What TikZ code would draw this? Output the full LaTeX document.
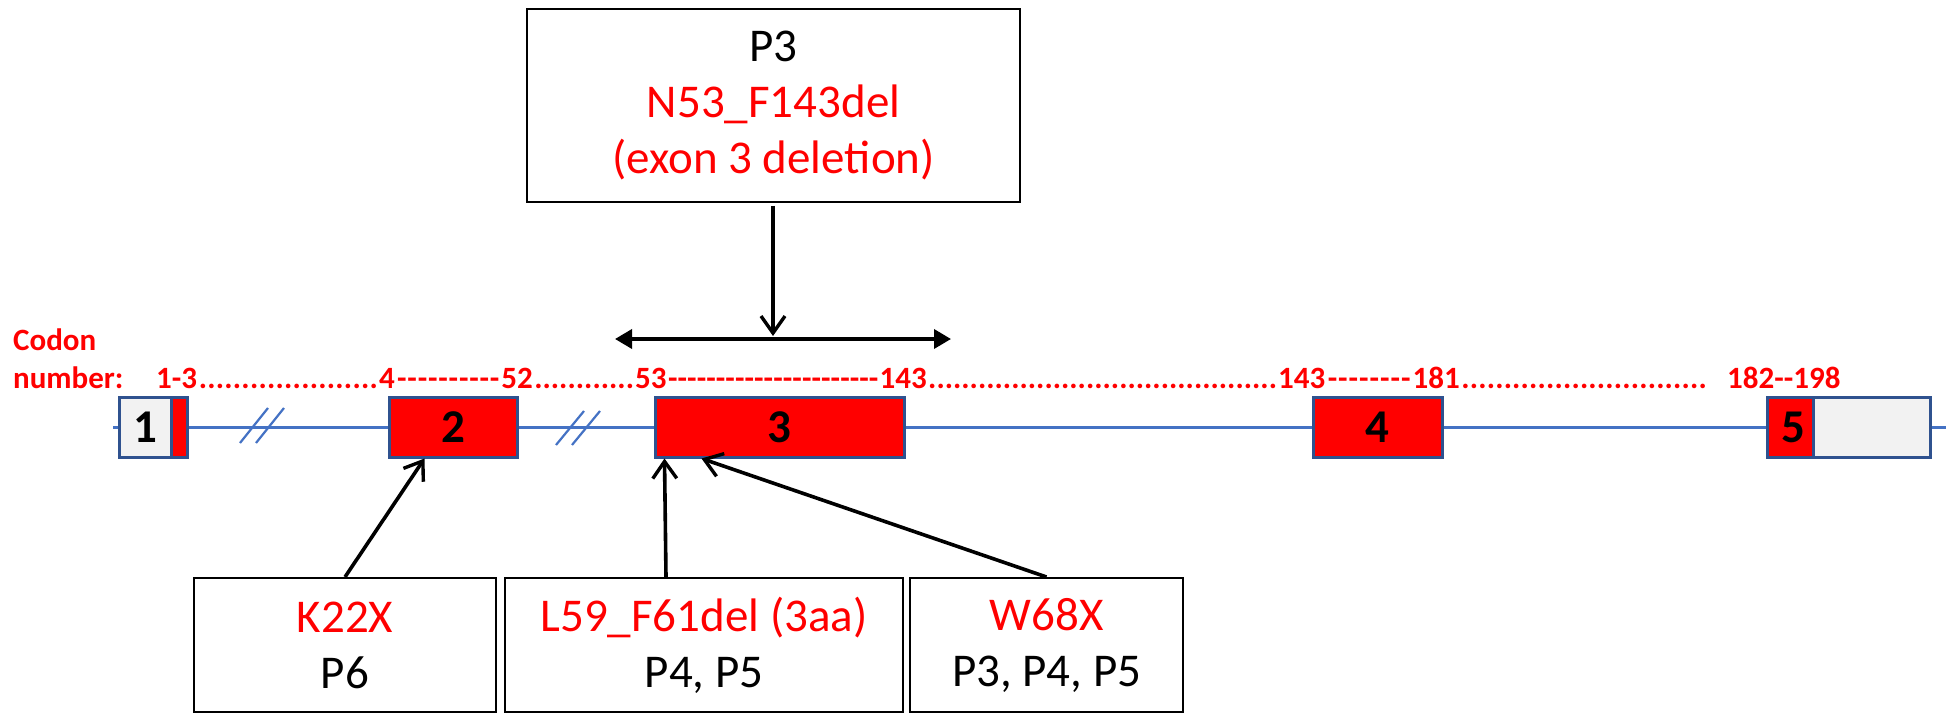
\documentclass[tikz,border=0pt]{standalone}
\usepackage{fontspec}
\setmainfont{Carlito}
\usetikzlibrary{arrows.meta,calc}
\definecolor{exred}{HTML}{FF0000}
\definecolor{exline}{HTML}{2F528F}
\definecolor{intron}{HTML}{4472C4}
\definecolor{utr}{HTML}{F2F2F2}
\newcommand\codonfill[3]{%
  \path let \p1=(#1.base east), \p2=(#2.base west) in
    node[codon, anchor=base west] at ([xshift=1pt]\p1) {\hbox to \dimexpr\x2-\x1-2pt\relax{\xleaders\hbox{#3}\hfill}};}
\tikzset{
  codon/.style={text=exred, font=\bfseries\fontsize{31}{37}\selectfont, inner sep=0pt},
  exon/.style={draw=exline, line width=3pt, inner sep=0pt, minimum height=60pt, font=\bfseries\fontsize{47}{47}\selectfont},
  txtbox/.style={draw=black, line width=2pt, align=center, inner sep=0pt, font=\fontsize{47}{56}\selectfont},
  arr/.style={line width=3.6pt, -{Straight Barb[length=17pt,width=24pt,line width=3.4pt]}},
  brk/.style={draw=intron, line width=2.2pt},
}
\begin{document}
\begin{tikzpicture}[x=1pt,y=-1pt]
\useasboundingbox (0,0) rectangle (1946,714);
% intron backbone
\coordinate (lstart) at (113,427);
\coordinate (lend) at (1946,427);
\draw[intron, line width=3pt] (lstart) -- (lend);
% break marks
\draw[brk] (240,443) -- (268,408);
\draw[brk] (256,443) -- (284,408);
\draw[brk] (556,445) -- (584,411);
\draw[brk] (572,445) -- (600,411);
% exons
\node[exon, fill=utr, minimum width=52pt] (ex1g) at (145,427) {1};
\node[exon, fill=exred, minimum width=16pt] (ex1r) at (179,427) {};
\node[exon, fill=exred, minimum width=128pt] (ex2) at (453,427) {2};
\node[exon, fill=exred, minimum width=249pt] (ex3) at (779.5,427) {3};
\node[exon, fill=exred, minimum width=129pt] (ex4) at (1377.5,427) {4};
\node[exon, fill=utr, minimum width=117pt] (ex5g) at (1871.5,427) {};
\node[exon, fill=exred, minimum width=46pt] (ex5r) at (1790,427) {\hspace*{6pt}5};
% codon labels
\node[codon, anchor=base west] (codon) at (13,350) {Codon};
\node[codon, anchor=base west] (number) at (13,388) {number:};
\node[codon, anchor=base west] (c13) at (156,388) {1-3};
\node[codon, anchor=base west] (c4) at (379,388) {4};
\node[codon, anchor=base east] (c52) at (533,388) {52};
\node[codon, anchor=base west] (c53) at (635,388) {53};
\node[codon, anchor=base east] (c143a) at (927,388) {143};
\node[codon, anchor=base west] (c143b) at (1278,388) {143};
\node[codon, anchor=base east] (c181) at (1460,388) {181};
\node[codon, anchor=base west] (dend) at (1708,388) {};
\node[codon, anchor=base west] (c182) at (1727,388) {182-{}-198};
\codonfill{c13}{c4}{.}
\codonfill{c4}{c52}{-}
\codonfill{c52}{c53}{.}
\codonfill{c53}{c143a}{-}
\codonfill{c143a}{c143b}{.}
\codonfill{c143b}{c181}{-}
\codonfill{c181}{dend}{.}
% top box
\node[txtbox, minimum width=493pt, minimum height=193pt] (top) at (773.5,105.5)
  {P3\\\textcolor{exred}{N53\_F143del}\\\textcolor{exred}{(exon 3 deletion)}};
\coordinate (dl) at (615,339);
\coordinate (dr) at (951,339);
\coordinate (dmid) at (773,336);
\draw[line width=3.6pt, {Triangle[length=17pt,width=19pt]}-{Triangle[length=17pt,width=19pt]}] (dl) -- (dr);
\draw[arr, shorten <=3pt] (top.south -| dmid) -- (dmid);
% bottom boxes
\node[txtbox, minimum width=302pt, minimum height=134pt] (bk) at (345,645)
  {\textcolor{exred}{K22X}\\P6};
\node[txtbox, minimum width=398pt, minimum height=134pt] (bl) at (704,645)
  {\textcolor{exred}{L59\_F61del (3aa)}\\P4, P5};
\node[txtbox, minimum width=273pt, minimum height=134pt] (bw) at (1046.5,645)
  {\textcolor{exred}{W68X}\\P3, P4, P5};
\draw[arr] (bk.north) -- ($(ex2.south west)+(37,0)$);
\draw[arr] ($(bl.north)+(-38,0)$) -- ($(ex3.south west)+(11,0)$);
\draw[arr] (bw.north) -- ($(ex3.south west)+(48,0)$);
\end{tikzpicture}
\end{document}
